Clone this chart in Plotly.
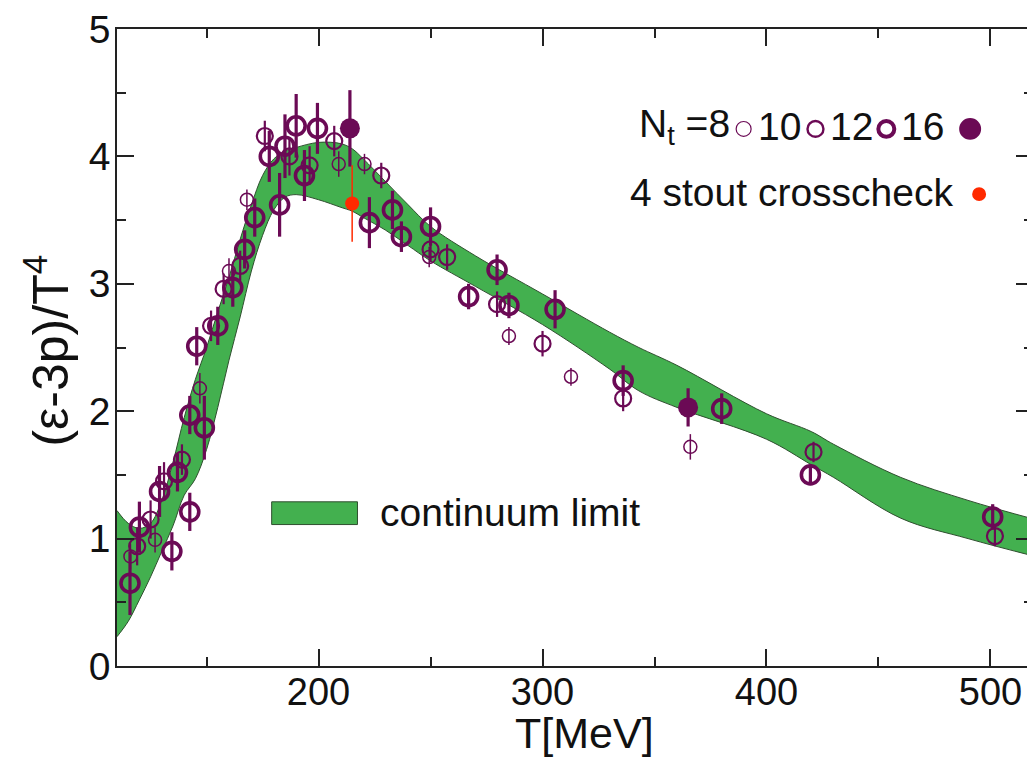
import plotly.graph_objects as go

# ---------------- data ----------------
band_T = [110, 115, 120, 125, 130, 135, 140, 145, 150, 155, 160, 165, 170, 175, 180, 185, 190,
          200, 210, 215, 220, 230, 240, 250, 270, 300, 330, 343, 360, 400, 420, 430, 460, 490, 520]
band_upper = [1.22, 1.12, 1.08, 1.12, 1.30, 1.60, 1.95, 2.25, 2.50, 2.78, 3.05, 3.35, 3.62, 3.85, 3.98, 4.04, 4.07,
              4.11, 4.10, 4.06, 3.98, 3.80, 3.62, 3.45, 3.22, 2.92, 2.62, 2.50, 2.36, 1.98, 1.84, 1.74, 1.48, 1.30, 1.15]
band_lower = [0.23, 0.35, 0.52, 0.70, 0.90, 1.10, 1.34, 1.47, 1.70, 2.03, 2.40, 2.74, 3.10, 3.38, 3.58, 3.68, 3.70,
              3.66, 3.60, 3.57, 3.52, 3.42, 3.30, 3.18, 2.98, 2.68, 2.33, 2.16, 2.03, 1.78, 1.58, 1.48, 1.16, 1.00, 0.86]

T8 = [116, 127, 147, 160, 168, 209, 220.5, 249.4, 285, 312.7, 366]
v8 = [0.86, 0.99, 2.18, 3.10, 3.66, 3.94, 3.94, 3.21, 2.59, 2.27, 1.72]
e8 = [0.10, 0.10, 0.12, 0.10, 0.08, 0.10, 0.08, 0.08, 0.07, 0.07, 0.10]

T10 = [119, 125, 131, 139, 152, 157.6, 165, 176, 187, 196, 207, 228, 250, 257.4, 279.7, 300, 336, 421, 502]
v10 = [0.94, 1.15, 1.45, 1.62, 2.67, 2.96, 3.14, 4.16, 4.00, 3.93, 4.12, 3.85, 3.27, 3.21, 2.84, 2.53, 2.10, 1.68, 1.02]
e10 = [0.15, 0.15, 0.15, 0.12, 0.12, 0.12, 0.12, 0.12, 0.15, 0.15, 0.12, 0.10, 0.10, 0.10, 0.10, 0.10, 0.10, 0.08, 0.08]

T12 = [115.8, 120, 129, 134.5, 137, 142.5, 142.5, 145.6, 149, 155, 161.7, 167, 171.5, 178, 182.6, 185, 190,
       193.7, 199.5, 222.7, 233, 237, 250, 267, 279.7, 285, 305.6, 336, 380, 419.6, 501]
v12 = [0.65, 1.09, 1.37, 0.90, 1.52, 1.21, 1.97, 2.51, 1.87, 2.67, 2.97, 3.27, 3.52, 4.00, 3.62, 4.08, 4.24,
       3.85, 4.22, 3.48, 3.58, 3.37, 3.45, 2.90, 3.11, 2.83, 2.80, 2.24, 2.02, 1.50, 1.17]
e12 = [0.25, 0.20, 0.20, 0.15, 0.15, 0.15, 0.15, 0.15, 0.25, 0.15, 0.15, 0.15, 0.15, 0.20, 0.25, 0.25, 0.25,
       0.20, 0.20, 0.20, 0.15, 0.12, 0.15, 0.10, 0.12, 0.10, 0.15, 0.12, 0.12, 0.08, 0.10]

T16 = [214, 365]
v16 = [4.22, 2.03]
e16 = [0.30, 0.15]

T_stout = [215]
v_stout = [3.63]
e_stout = [0.30]

x_ticks = [200, 300, 400, 500]
y_ticks = [0, 1, 2, 3, 4, 5]

# ---------------- style ----------------
PURPLE = "#6b0a55"
GREEN = "#43b04f"
RED = "#ff2a00"
FONT = "Liberation Sans, Arial, sans-serif"
OFF = 8  # default page body margin
W, H = 1035 - OFF, 760 - OFF
ML, MR, MT, MB = 117 - OFF, 0, 22 - OFF, 94
PW, PH = W - ML - MR, H - MT - MB


def px(x):  # page pixel -> paper fraction
    return (x - OFF - ML) / PW


def py(y):
    return (H - MB - (y - OFF)) / PH


fig = go.Figure()

# continuum band
fig.add_trace(go.Scatter(x=band_T, y=band_lower, mode="lines", line=dict(color="#2f4f2f", width=1),
                         line_shape="spline", showlegend=False, hoverinfo="skip"))
fig.add_trace(go.Scatter(x=band_T, y=band_upper, mode="lines", line=dict(color="#2f4f2f", width=1),
                         line_shape="spline", fill="tonexty", fillcolor=GREEN, showlegend=False, hoverinfo="skip"))


def add_points(T, v, e, size, lw, bar_w, filled=False, color=PURPLE):
    fig.add_trace(go.Scatter(
        x=T, y=v, mode="markers",
        error_y=dict(type="data", array=e, visible=True, color=color, thickness=bar_w, width=0),
        marker=dict(symbol="circle" if filled else "circle-open", size=size, color=color,
                    line=dict(color=color, width=lw)),
        showlegend=False))


add_points(T8, v8, e8, 13, 1.5, 1.5)
add_points(T10, v10, e10, 16, 2.2, 2.2)
add_points(T12, v12, e12, 18, 3.6, 3.2)
add_points(T16, v16, e16, 20, 0, 3.2, filled=True)
add_points(T_stout, v_stout, e_stout, 14, 0, 1.5, filled=True, color=RED)

# ---------------- legend (drawn manually) ----------------
LF = dict(family=FONT, size=39, color="#111111")
ann = []
shapes = []
ann.append(dict(x=px(733), y=py(121), xref="paper", yref="paper", text="N<sub>t</sub> =8",
                showarrow=False, xanchor="right", yanchor="middle", font=LF))
ann.append(dict(x=px(781), y=py(121), xref="paper", yref="paper", text="10",
                showarrow=False, xanchor="center", yanchor="middle", font=LF))
ann.append(dict(x=px(853), y=py(121), xref="paper", yref="paper", text="12",
                showarrow=False, xanchor="center", yanchor="middle", font=LF))
ann.append(dict(x=px(924), y=py(121), xref="paper", yref="paper", text="16",
                showarrow=False, xanchor="center", yanchor="middle", font=LF))
ann.append(dict(x=px(957), y=py(187), xref="paper", yref="paper", text="4 stout crosscheck",
                showarrow=False, xanchor="right", yanchor="middle", font=LF))
ann.append(dict(x=px(379), y=py(511), xref="paper", yref="paper", text="continuum limit",
                showarrow=False, xanchor="left", yanchor="middle", font=LF))


def circ(cx, cy, r, lw, fill=None, color=PURPLE):
    shapes.append(dict(type="circle", xref="paper", yref="paper",
                       x0=px(cx - r), x1=px(cx + r), y0=py(cy + r), y1=py(cy - r),
                       line=dict(color=color, width=lw),
                       fillcolor=fill if fill else "rgba(0,0,0,0)"))


circ(745, 123, 7.5, 1.2)
circ(817, 123, 8, 2.4)
circ(888, 123, 8, 4)
circ(972, 123, 11, 0, fill=PURPLE)
circ(981, 189, 7, 0, fill=RED, color=RED)
shapes.append(dict(type="rect", xref="paper", yref="paper", x0=px(272), x1=px(358), y0=py(523), y1=py(500),
                   line=dict(color="#2f4f2f", width=1), fillcolor=GREEN))

# axis titles
ann.append(dict(x=px(586), y=py(734), xref="paper", yref="paper", text="T[MeV]", showarrow=False,
                xanchor="center", yanchor="middle", font=dict(family=FONT, size=43, color="#111111")))
ann.append(dict(x=px(47), y=py(347), xref="paper", yref="paper", text="(ε-3p)/T<sup>4</sup>", showarrow=False,
                textangle=-90, xanchor="center", yanchor="middle",
                font=dict(family=FONT, size=50, color="#111111")))

fig.update_layout(
    width=W, height=H, margin=dict(l=ML, r=MR, t=MT, b=MB),
    paper_bgcolor="white", plot_bgcolor="white",
    annotations=ann, shapes=shapes, showlegend=False,
    xaxis=dict(range=[110, 519], tickvals=x_ticks, ticks="inside", ticklen=17, tickwidth=1.5,
               tickcolor="#222", showline=True, linecolor="#222", linewidth=1.5, mirror="ticks",
               showgrid=False, zeroline=False, ticklabelstandoff=-8, ticklabeloverflow="allow",
               tickfont=dict(family=FONT, size=38, color="#111111"),
               minor=dict(ticks="inside", ticklen=9, tickwidth=1.5, tickcolor="#222", dtick=50, tick0=0,
                          showgrid=False)),
    yaxis=dict(range=[0, 5], tickvals=y_ticks, ticks="inside", ticklen=17, tickwidth=1.5,
               tickcolor="#222", showline=True, linecolor="#222", linewidth=1.5, mirror="ticks",
               showgrid=False, zeroline=False, ticklabelstandoff=-3, ticklabeloverflow="allow",
               tickfont=dict(family=FONT, size=39, color="#111111"),
               minor=dict(ticks="inside", ticklen=9, tickwidth=1.5, tickcolor="#222", dtick=0.5, tick0=0,
                          showgrid=False)),
)

fig.write_html("out.html")
